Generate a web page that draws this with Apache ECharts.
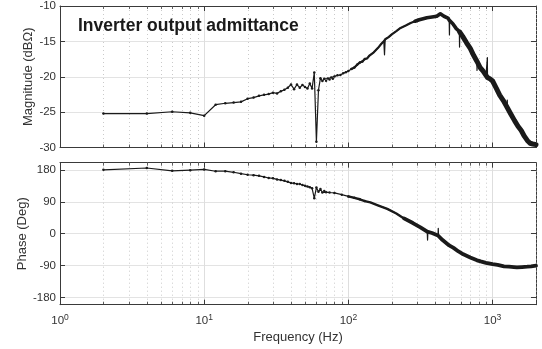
<!DOCTYPE html>
<html>
<head>
<meta charset="utf-8">
<script src="https://cdn.jsdelivr.net/npm/echarts@6/dist/echarts.min.js"></script>
<style>
  html,body{margin:0;padding:0;background:#fff}
  #chart{width:542px;height:349px}
</style>
</head>
<body>
<div id="chart"></div>
<script>
  // magnitude trace (Hz, dBOhm)
  var magFreq=[2,4,6,8,10,12,14,16,18,20,22,24,26,28,30,32,34,36,38,40,42,44,46,48,50,52,54,56,58,60,62,64,66,68,70,72,74,76,78,80,84,88,92,96,100,105,110,115,120,125,130,135,140,150,160,170,176,178,180,190,200,215,230,250,270,290,310,330,350,380,410,434,460,490,500,502,504,530,560,588,590,592,620,660,700,740,778,780,782,820,860,900,918,920,922,960,1000,1060,1120,1190,1260,1264,1268,1340,1420,1500,1580,1660,1740,1820,1900,2000]
  var magDb=[-25.2,-25.2,-24.95,-25.1,-25.5,-23.95,-23.75,-23.65,-23.55,-23.1,-22.95,-22.7,-22.55,-22.45,-22.25,-22.35,-22.05,-21.85,-21.55,-21.1,-21.75,-21.1,-21.55,-21.15,-21.45,-21.65,-20.95,-21.65,-19.4,-29.2,-21.9,-20.2,-20.6,-20.3,-20.55,-20.25,-20.4,-20.1,-20.3,-19.95,-19.8,-19.75,-19.5,-19.35,-19.2,-18.9,-18.7,-18.3,-18.0,-17.85,-17.5,-17.4,-17.0,-16.55,-15.95,-15.3,-15.0,-16.9,-14.7,-14.4,-14.0,-13.55,-13.1,-12.75,-12.4,-12.15,-11.95,-11.8,-11.65,-11.55,-11.45,-11.1,-11.45,-11.7,-12.0,-14.1,-12.1,-12.5,-13.2,-13.6,-15.8,-13.7,-14.3,-15.2,-16.0,-17.0,-17.8,-19.1,-17.9,-18.7,-19.2,-19.8,-20.0,-17.3,-20.1,-20.3,-20.6,-21.6,-22.6,-23.4,-24.3,-23.3,-24.4,-25.3,-26.2,-27.0,-27.6,-28.4,-29.0,-29.4,-29.5,-29.6]
  // isolated outliers in the noisy part (drawn thin, outside the band)
  var magSpikes=[178,502,590,780,920,1264]

  // phase trace (Hz, deg)
  var phFreq=[2,4,6,8,10,12,14,16,18,20,22,24,26,28,30,32,34,36,38,40,42,44,46,48,50,52,54,56,58,60,62,64,66,68,70,74,80,90,100,110,120,130,142,160,186,215,243,280,316,352,354,356,380,418,420,422,450,500,536,580,627,700,780,826,900,1000,1083,1200,1300,1406,1474,1600,1740,1850,2000]
  var phDeg=[180,185,177,179,181,176,176,173,169,166,165,163,160,157,156,153,151,149,146,143,142,140,140,137,135,133,131,128,100,130,118,126,116,120,117,116,115,110,105,101,97,92,88,80,70,57,43,30,18,6,-18,5,2,-5,15,-7,-18,-33,-40,-50,-58,-67,-75,-78,-82,-86,-88,-92,-93,-94,-95,-94,-93,-92,-90]
  var phSpikes=[354,420]

  var decades=[1,10,100,1000]
  var minorFreq=[2,3,4,5,6,7,8,9,20,30,40,50,60,70,80,90,200,300,400,500,600,700,800,900,2000]
  var magTicks=[-30,-25,-20,-15,-10]
  var phTicks=[-180,-90,0,90,180]

  var axisColor='#3a3a3a'
  var txtColor='#333'
  var font='Liberation Sans'

  // points in [lo,hi] (minus outliers) plus one neighbour each side so pieces join
  function pick(fs,vs,lo,hi,skip){
    var keep=[]
    for(var i=0;i<fs.length;i++){
      if(skip.indexOf(fs[i])<0)keep.push([fs[i],vs[i]])
    }
    var out=[]
    for(var j=0;j<keep.length;j++){
      var f=keep[j][0]
      var inside=f>=lo&&f<=hi
      var prevIn=j>0&&keep[j-1][0]>=lo&&keep[j-1][0]<=hi
      var nextIn=j<keep.length-1&&keep[j+1][0]>=lo&&keep[j+1][0]<=hi
      if(inside||prevIn||nextIn)out.push(keep[j])
    }
    return out
  }

  function line(idx,data,w,dots){
    return {
      type:'line',xAxisIndex:idx,yAxisIndex:idx,
      data:data,
      showSymbol:!!dots,symbol:'circle',symbolSize:2.5,
      itemStyle:{color:'#1a1a1a'},
      lineStyle:{color:'#1a1a1a',width:w,join:'round',cap:'round'},
      silent:true,animation:false,z:5
    }
  }

  function fullTrace(idx,fs,vs){
    var d=fs.map(function(f,i){return [f,vs[i]]})
    var s=line(idx,d,1.2,true)
    s.symbolSize=function(v){return v[0]<=130?2.5:0}
    return s
  }

  // dotted minor grid + small inward ticks at both edges
  function minorGrid(idx){
    return {
      type:'custom',xAxisIndex:idx,yAxisIndex:idx,
      data:minorFreq.map(function(f){return [f,0]}),
      clip:false,silent:true,animation:false,z:1,
      renderItem:function(params,api){
        var x=Math.round(api.coord([api.value(0),0])[0])+0.5
        var cs=params.coordSys
        var top=cs.y,bot=cs.y+cs.height
        return {type:'group',children:[
          {type:'line',shape:{x1:x,y1:top,x2:x,y2:bot},
            style:{stroke:'#bdbdbd',lineWidth:0.8,lineDash:[1,3]}},
          {type:'line',shape:{x1:x,y1:top,x2:x,y2:top+3},style:{stroke:axisColor,lineWidth:0.8}},
          {type:'line',shape:{x1:x,y1:bot,x2:x,y2:bot-3},style:{stroke:axisColor,lineWidth:0.8}}
        ]}
      }
    }
  }

  function xAxes(idx,labels){
    var base={
      type:'log',logBase:10,min:1,max:2000,gridIndex:idx,
      axisLine:{show:true,onZero:false,lineStyle:{color:axisColor,width:1}},
      axisTick:{show:true,inside:true,length:5,customValues:decades,lineStyle:{color:axisColor}},
      splitLine:{show:false}
    }
    var bottom=Object.assign({},base,{
      position:'bottom',
      splitLine:{show:true,lineStyle:{color:'#dedede',width:1}},
      axisLabel:{show:labels,customValues:decades,color:txtColor,margin:8,fontFamily:font,fontSize:11.5,
        formatter:function(v){return '10{s|'+Math.round(Math.log10(v))+'}'},
        rich:{s:{fontSize:8.5,fontFamily:font,color:txtColor,padding:[0,0,8,0]}}}
    })
    if(labels){
      bottom.name='Frequency (Hz)'
      bottom.nameLocation='middle'
      bottom.nameGap=26
      bottom.nameMoveOverlap=false
      bottom.nameTextStyle={color:txtColor,fontFamily:font,fontSize:13}
    }
    var top=Object.assign({},base,{position:'top',axisLabel:{show:false}})
    return [bottom,top]
  }

  function yAxes(idx,min,max,ticks,name,gap){
    var base={
      type:'value',gridIndex:idx,min:min,max:max,
      axisLine:{show:true,onZero:false,lineStyle:{color:axisColor,width:1}},
      axisTick:{show:true,inside:true,length:5,customValues:ticks,lineStyle:{color:axisColor}},
      splitLine:{show:false}
    }
    var left=Object.assign({},base,{
      position:'left',
      name:name,nameLocation:'middle',nameGap:gap,nameMoveOverlap:false,
      nameTextStyle:{color:txtColor,fontFamily:font,fontSize:13},
      splitLine:{show:true,lineStyle:{color:'#e3e3e3',width:1}},
      axisLabel:{show:true,customValues:ticks,color:txtColor,margin:4,fontFamily:font,fontSize:11.5}
    })
    var right=Object.assign({},base,{position:'right',axisLabel:{show:false}})
    return [left,right]
  }

  var chart=echarts.init(document.getElementById('chart'))

  var xa=xAxes(0,false).concat(xAxes(1,true))
  var ya=yAxes(0,-30,-10,magTicks,'Magnitude (dBΩ)',25).concat(yAxes(1,-200,200,phTicks,'Phase (Deg)',31))
  xa.forEach(function(a,i){a.gridIndex=i<2?0:1})
  ya.forEach(function(a,i){a.gridIndex=i<2?0:1})

  var option={
    backgroundColor:'#fff',
    title:{
      text:'Inverter output admittance',left:73,top:12,
      textStyle:{color:'#1a1a1a',fontFamily:font,fontSize:17.5,fontWeight:'bold'}
    },
    grid:[
      {left:60,right:6,top:5.5,height:142},
      {left:60,right:6,top:162.7,height:142}
    ],
    xAxis:xa,
    yAxis:ya,
    series:[
      minorGrid(0),
      minorGrid(2),
      fullTrace(0,magFreq,magDb),
      line(0,pick(magFreq,magDb,110,300,magSpikes),2.2),
      line(0,pick(magFreq,magDb,300,600,magSpikes),3.6),
      line(0,pick(magFreq,magDb,600,2000,magSpikes),5),
      fullTrace(2,phFreq,phDeg),
      line(2,pick(phFreq,phDeg,110,250,phSpikes),2.4),
      line(2,pick(phFreq,phDeg,250,2000,phSpikes),3.8)
    ]
  }
  chart.setOption(option)
</script>
</body>
</html>
